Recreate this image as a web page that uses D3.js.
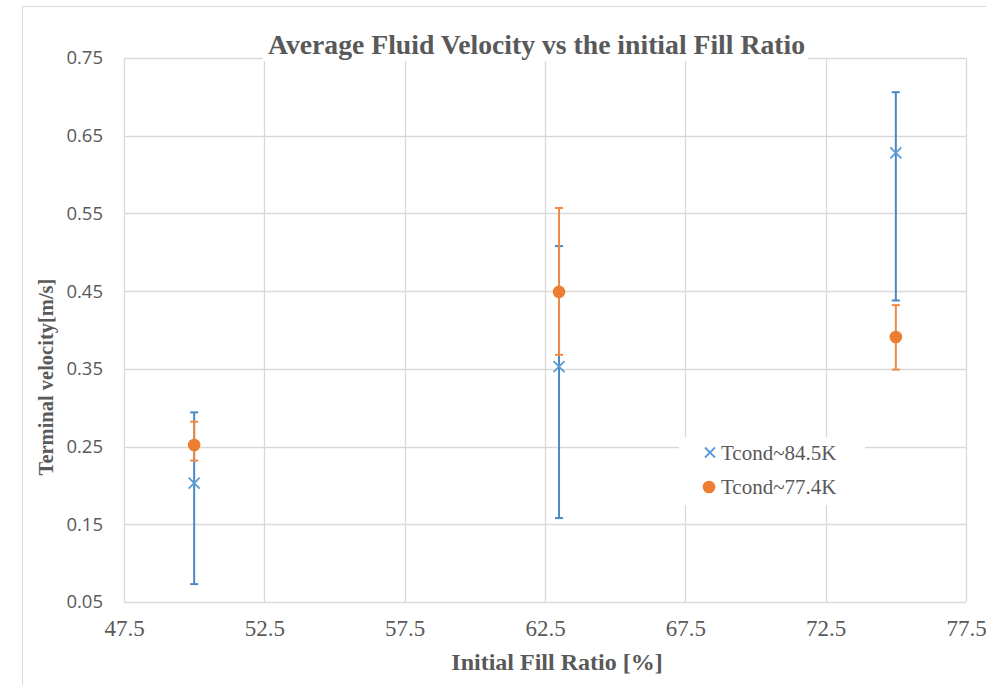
<!DOCTYPE html>
<html>
<head>
<meta charset="utf-8">
<script src="https://cdn.jsdelivr.net/npm/d3@7"></script>
<style>
  html, body { margin: 0; padding: 0; background: #fff; }
  svg { display: block; }
  .serif { font-family: "Liberation Serif", Tinos, "Times New Roman", Times, "DejaVu Serif", serif; }
</style>
</head>
<body>
<svg id="chart" width="986" height="685"></svg>
<script>
// ---- data ----
const xValues = [50, 63, 75];
const seriesNames = ["Tcond~84.5K", "Tcond~77.4K"];
const s1Values = [0.203, 0.353, 0.628];
const s1Low    = [0.073, 0.158, 0.438];
const s1High   = [0.294, 0.508, 0.706];
const s2Values = [0.252, 0.449, 0.391];
const s2Low    = [0.232, 0.368, 0.349];
const s2High   = [0.282, 0.557, 0.432];
const xTicks = [47.5, 52.5, 57.5, 62.5, 67.5, 72.5, 77.5];
const yTicks = [0.05, 0.15, 0.25, 0.35, 0.45, 0.55, 0.65, 0.75];

const svg = d3.select("#chart");
const plot = {left: 124, right: 966, top: 58, bottom: 602};

const x = d3.scaleLinear().domain([47.5, 77.5]).range([plot.left, plot.right]);
const y = d3.scaleLinear().domain([0.05, 0.75]).range([plot.bottom, plot.top]);

const gridColor = "#d9d9d9";
const textColor = "#595959";
const blue = "#5b9bd5", blueErr = "#4a89c8";
const orange = "#ed7d31", orangeErr = "#f08a43";

// outer chart border
svg.append("rect").attr("x", 22.5).attr("y", 6.5).attr("width", 1000).attr("height", 1000)
  .attr("fill", "#fff").attr("stroke", "#d9d9d9").attr("stroke-width", 1);

// gridlines
const grid = svg.append("g");
grid.selectAll("line.h").data(yTicks).join("line")
  .attr("x1", plot.left).attr("x2", plot.right)
  .attr("y1", d => Math.round(y(d)) + 0.5).attr("y2", d => Math.round(y(d)) + 0.5)
  .attr("stroke", gridColor).attr("stroke-width", 1.3);
grid.selectAll("line.v").data(xTicks).join("line")
  .attr("y1", plot.top).attr("y2", plot.bottom)
  .attr("x1", d => Math.round(x(d)) + 0.5).attr("x2", d => Math.round(x(d)) + 0.5)
  .attr("stroke", gridColor).attr("stroke-width", 1.3);

// axes via d3 axis generators, styled
const yAxis = svg.append("g").attr("transform", `translate(${plot.left},0)`)
  .call(d3.axisLeft(y).tickValues(yTicks).tickFormat(d3.format(".2f")).tickSize(0).tickPadding(21));
yAxis.attr("font-family", null).attr("font-size", null);
yAxis.select(".domain").remove();
yAxis.selectAll("text").attr("fill", textColor)
  .style("font-family", "'Open Sans', sans-serif").style("font-size", "18.5px");

const xAxis = svg.append("g").attr("transform", `translate(0,${plot.bottom})`)
  .call(d3.axisBottom(x).tickValues(xTicks).tickFormat(d3.format(".1f")).tickSize(0));
xAxis.attr("font-family", null).attr("font-size", null);
xAxis.select(".domain").remove();
xAxis.selectAll("text").attr("fill", textColor).attr("class", "serif")
  .attr("y", 33.5).attr("dy", null)
  .style("font-size", "23px");

// title with white background
svg.append("rect").attr("x", 263).attr("y", 26).attr("width", 545).attr("height", 35).attr("fill", "#fff");
svg.append("text").attr("class", "serif").attr("x", 536.5).attr("y", 53.5).attr("text-anchor", "middle")
  .attr("fill", textColor)
  .style("font-size", "27.7px").style("font-weight", "bold")
  .text("Average Fluid Velocity vs the initial Fill Ratio");

// axis titles
svg.append("text").attr("class", "serif").attr("x", 557).attr("y", 670).attr("text-anchor", "middle")
  .attr("fill", textColor)
  .style("font-size", "24px").style("font-weight", "bold")
  .text("Initial Fill Ratio [%]");
svg.append("text").attr("class", "serif").attr("transform", "translate(53,377) rotate(-90)").attr("text-anchor", "middle")
  .attr("fill", textColor)
  .style("font-size", "20.5px").style("font-weight", "bold")
  .text("Terminal velocity[m/s]");

// error bars
function errorBars(vals, lows, highs, color) {
  const g = svg.append("g");
  const d = vals.map((v, i) => ({x: xValues[i], v, lo: lows[i], hi: highs[i]}));
  g.selectAll("line.stem").data(d).join("line")
    .attr("x1", p => x(p.x)).attr("x2", p => x(p.x))
    .attr("y1", p => y(p.lo)).attr("y2", p => y(p.hi))
    .attr("stroke", color).attr("stroke-width", 2);
  ["lo", "hi"].forEach(k => {
    g.selectAll("line.cap" + k).data(d).join("line")
      .attr("x1", p => x(p.x) - 4).attr("x2", p => x(p.x) + 4)
      .attr("y1", p => y(p[k])).attr("y2", p => y(p[k]))
      .attr("stroke", color).attr("stroke-width", 2);
  });
}
errorBars(s1Values, s1Low, s1High, blueErr);
errorBars(s2Values, s2Low, s2High, orangeErr);

// markers
const s1 = s1Values.map((v, i) => ({x: xValues[i], v}));
const s2 = s2Values.map((v, i) => ({x: xValues[i], v}));
const xm = 5.5;
svg.append("g").selectAll("path").data(s1).join("path")
  .attr("d", p => {
    const cx = x(p.x), cy = y(p.v);
    return `M${cx - xm},${cy - xm}L${cx + xm},${cy + xm}M${cx - xm},${cy + xm}L${cx + xm},${cy - xm}`;
  })
  .attr("stroke", blue).attr("stroke-width", 1.8).attr("fill", "none");
svg.append("g").selectAll("circle").data(s2).join("circle")
  .attr("cx", p => x(p.x)).attr("cy", p => y(p.v)).attr("r", 6.3)
  .attr("fill", orange);

// legend
const lg = svg.append("g");
lg.append("rect").attr("x", 679).attr("y", 437).attr("width", 186).attr("height", 68).attr("fill", "#fff");
const items = [
  {name: seriesNames[0], cy: 452.5, type: "x"},
  {name: seriesNames[1], cy: 487, type: "o"}
];
items.forEach(it => {
  if (it.type === "x") {
    const cx = 710, s = 5;
    lg.append("path")
      .attr("d", `M${cx - s},${it.cy - s}L${cx + s},${it.cy + s}M${cx - s},${it.cy + s}L${cx + s},${it.cy - s}`)
      .attr("stroke", blue).attr("stroke-width", 1.8);
  } else {
    lg.append("circle").attr("cx", 709).attr("cy", it.cy).attr("r", 6.3).attr("fill", orange);
  }
  lg.append("text").attr("class", "serif").attr("x", 721).attr("y", it.cy + 7)
    .attr("fill", textColor)
    .style("font-size", "21px")
    .text(it.name);
});
</script>
</body>
</html>
